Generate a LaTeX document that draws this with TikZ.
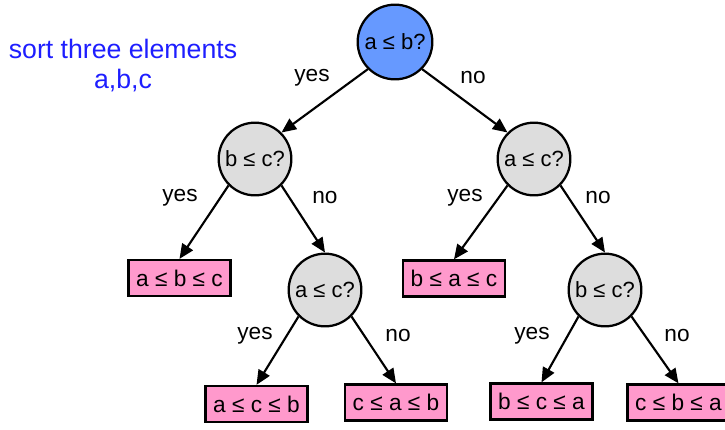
\documentclass[tikz,border=0pt]{standalone}
\usepackage{fontspec}
\setmainfont{Liberation Sans}
\usetikzlibrary{arrows.meta}
\definecolor{rootblue}{HTML}{6699FF}
\definecolor{qgray}{HTML}{DDDDDD}
\definecolor{leafpink}{HTML}{FF99CC}
\definecolor{titleblue}{RGB}{30,30,255}
\begin{document}
\begin{tikzpicture}[x=0.75pt,y=-0.75pt,
  qnode/.style={circle,draw=black,line width=1.7pt,fill=qgray,minimum size=54.5pt,inner sep=0pt,font=\fontsize{16.5}{18}\selectfont},
  rootnode/.style={qnode,fill=rootblue,minimum size=56pt},
  leaf/.style={rectangle,draw=black,line width=1.7pt,fill=leafpink,minimum width=76.5pt,minimum height=27pt,inner sep=0pt,font=\fontsize{17}{18}\selectfont},
  edgelbl/.style={font=\fontsize{17}{18}\selectfont,inner sep=0pt},
  conn/.style={line width=1.6pt,-{Triangle[length=11pt,width=9.5pt]}}]
\useasboundingbox (0,0) rectangle (725,429);
\node[font=\fontsize{20}{22.5}\selectfont,text=titleblue,align=center] (title) at (123,66) {sort three elements\\a,b,c};
\node[rootnode] (r) at (395,42) {a ≤ b?};
\node[qnode] (q1) at (255,159) {b ≤ c?};
\node[qnode] (q2) at (534,159) {a ≤ c?};
\node[qnode] (q3) at (325,290) {a ≤ c?};
\node[qnode] (q4) at (605,290) {b ≤ c?};
\node[leaf] (l1) at (179.5,278) {a ≤ b ≤ c};
\node[leaf] (l2) at (454,278.5) {b ≤ a ≤ c};
\node[leaf] (l3) at (256.5,404) {a ≤ c ≤ b};
\node[leaf] (l4) at (396,402.5) {c ≤ a ≤ b};
\node[leaf] (l5) at (541.5,401.5) {b ≤ c ≤ a};
\node[leaf] (l6) at (678.5,402.5) {c ≤ b ≤ a};
\draw[conn] (r.south west) -- (q1.north east);
\draw[conn] (r.south east) -- (q2.north west);
\draw[conn] (q1.south west) -- (l1.north);
\draw[conn] (q1.south east) -- (q3.north);
\draw[conn] (q2.south west) -- (l2.north);
\draw[conn] (q2.south east) -- (q4.north);
\draw[conn] (q3.south west) -- (l3.north);
\draw[conn] (q3.south east) -- (l4.north);
\draw[conn] (q4.south west) -- (l5.north);
\draw[conn] (q4.south east) -- (l6.north);
\node[edgelbl] (y0) at (312,78) {yes};
\node[edgelbl] (n0) at (473,78) {no};
\node[edgelbl] (y1) at (180,198) {yes};
\node[edgelbl] (n1) at (325,198) {no};
\node[edgelbl] (y2) at (465,198) {yes};
\node[edgelbl] (n2) at (598,198) {no};
\node[edgelbl] (y3) at (255,336) {yes};
\node[edgelbl] (n3) at (398,336) {no};
\node[edgelbl] (y4) at (532,336) {yes};
\node[edgelbl] (n4) at (677,336) {no};
\end{tikzpicture}
\end{document}
